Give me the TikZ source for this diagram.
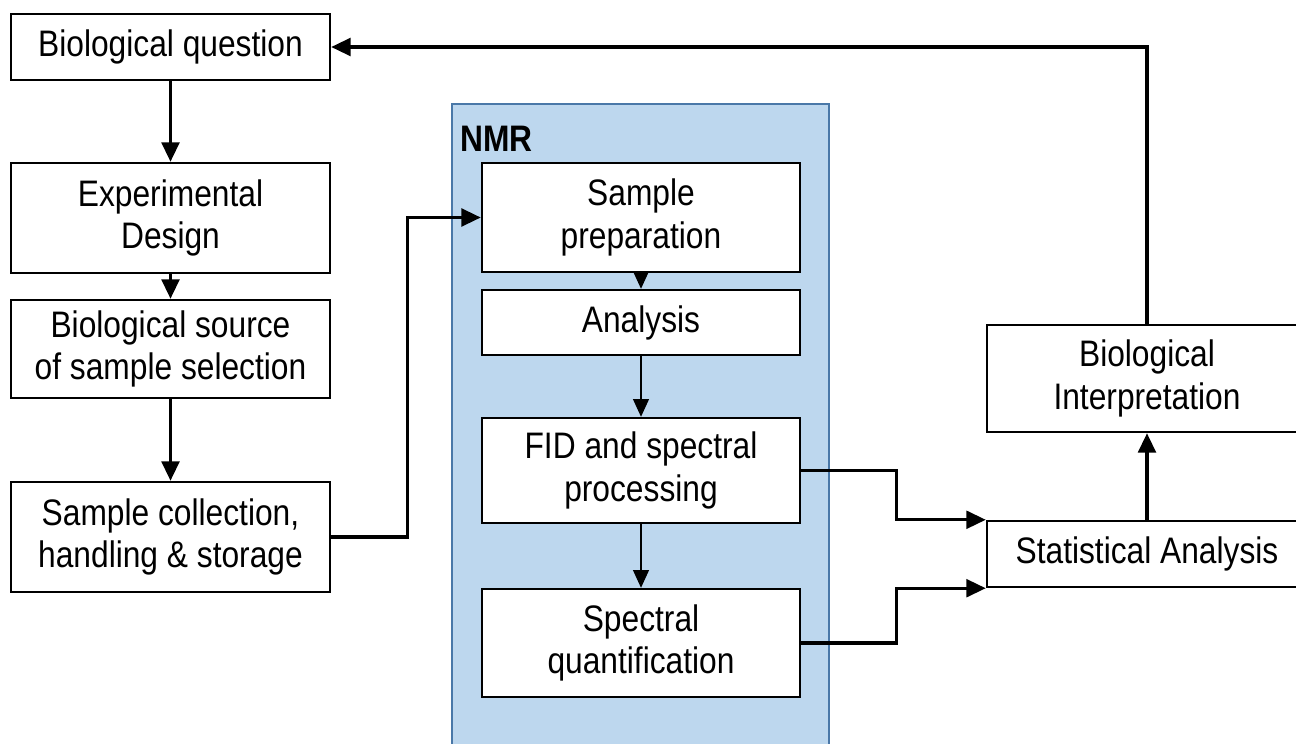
\documentclass[tikz,border=0pt]{standalone}
\usepackage{fontspec}
\setmainfont{Liberation Sans}[FakeStretch=0.86]
\usetikzlibrary{arrows.meta}
\definecolor{nmrfill}{HTML}{BDD7EE}
\definecolor{nmredge}{HTML}{4A78A8}
\begin{document}
\begin{tikzpicture}[x=0.02cm, y=-0.02cm,
  box/.style={draw=black, line width=1.4pt, fill=white, align=center,
    inner sep=0pt, font=\fontsize{21}{24}\selectfont},
  flow/.style={line width=1.9pt, -{Triangle[length=11pt,width=10pt]}},
  thinflow/.style={line width=0.7pt, -{Triangle[length=10pt,width=9pt]}}
]
\useasboundingbox (0,0) rectangle (1296,744);
\fill[white] (0,0) rectangle (1296,744);

% NMR block
\draw[fill=nmrfill, draw=nmredge, line width=1.2pt] (452,104) rectangle (829,760);
\node[anchor=west, inner sep=0pt, font=\fontsize{21}{24}\selectfont\bfseries] (nmr) at (460,139) {NMR};

% left column
\node[box, minimum width=6.38cm, minimum height=1.32cm] (q) at (170.5,47) {Biological question};
\node[box, minimum width=6.38cm, minimum height=2.2cm] (design) at (170.5,218) {Experimental\\Design};
\node[box, minimum width=6.38cm, minimum height=1.96cm] (source) at (170.5,349) {Biological source\\of sample selection};
\node[box, minimum width=6.38cm, minimum height=2.2cm] (collect) at (170.5,537) {Sample collection,\\handling \& storage};

% NMR steps
\node[box, minimum width=6.36cm, minimum height=2.18cm] (prep) at (641,217.5) {Sample\\preparation};
\node[box, minimum width=6.36cm, minimum height=1.3cm] (analysis) at (641,322.5) {Analysis};
\node[box, minimum width=6.36cm, minimum height=2.1cm] (fid) at (641,470.5) {FID and spectral\\processing};
\node[box, minimum width=6.36cm, minimum height=2.16cm] (quant) at (641,643) {Spectral\\quantification};

% right column
\node[box, minimum width=6.4cm, minimum height=1.32cm] (stat) at (1147,554) {Statistical Analysis};
\node[box, minimum width=6.4cm, minimum height=2.14cm] (interp) at (1147,378.5) {Biological\\Interpretation};

% connectors
\draw[flow] (q) -- (design);
\draw[flow] (design) -- (source);
\draw[flow] (source) -- (collect);
\draw[flow] (collect.east) -- ++(76,0) |- (prep.west);
\draw[thinflow] (prep) -- (analysis);
\draw[thinflow] (analysis) -- (fid);
\draw[thinflow] (fid) -- (quant);
\draw[flow] (fid.east) -- ++(95,0) |- (stat.north west);
\draw[flow] (quant.east) -- ++(95,0) |- (stat.south west);
\draw[flow] (stat) -- (interp);
\draw[flow] (interp.north) |- (q.east);
\end{tikzpicture}
\end{document}
